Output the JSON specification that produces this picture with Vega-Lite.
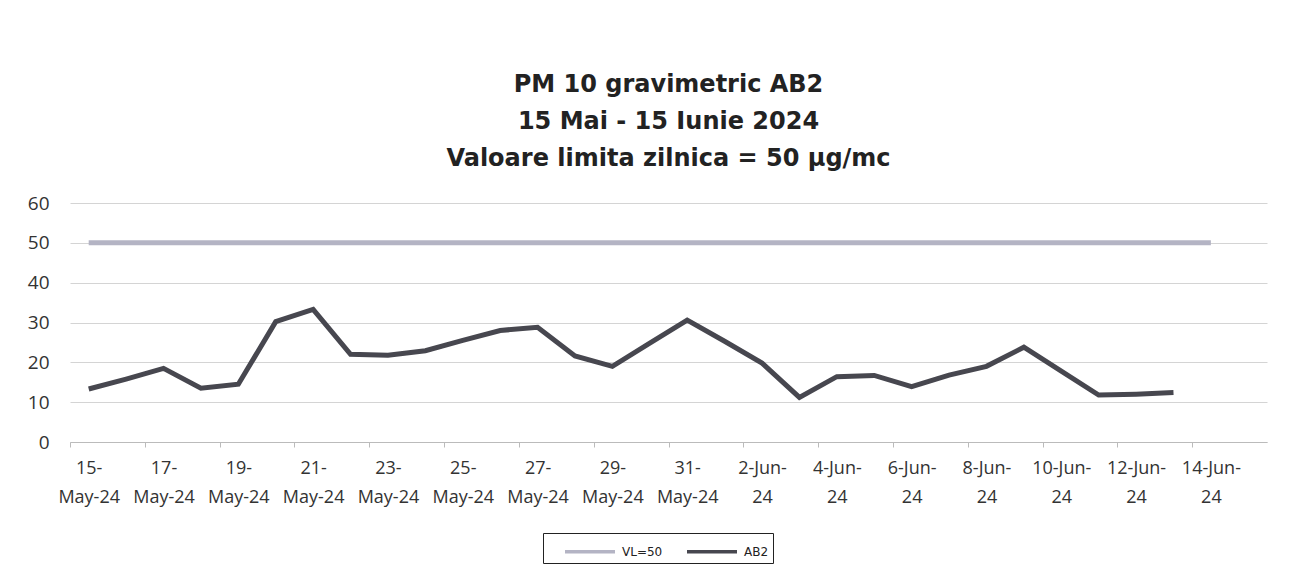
{
  "$schema": "https://vega.github.io/schema/vega-lite/v6.json",
  "autosize": {"type": "none"},
  "width": 1197,
  "height": 239,
  "padding": {"left": 70, "top": 203, "right": 33, "bottom": 133},
  "background": "white",
  "title": {
    "text": ["PM 10 gravimetric AB2", "15 Mai  - 15 Iunie 2024", "Valoare limita zilnica = 50 µg/mc"],
    "anchor": "middle",
    "font": "DejaVu Sans",
    "fontSize": 24,
    "fontWeight": "bold",
    "color": "#222222",
    "lineHeight": 37,
    "offset": 23
  },
  "data": {
    "values": [
      {"date": "15-May-24", "series": "AB2", "value": 13.3},
      {"date": "16-May-24", "series": "AB2", "value": 15.8},
      {"date": "17-May-24", "series": "AB2", "value": 18.5},
      {"date": "18-May-24", "series": "AB2", "value": 13.5},
      {"date": "19-May-24", "series": "AB2", "value": 14.5},
      {"date": "20-May-24", "series": "AB2", "value": 30.2},
      {"date": "21-May-24", "series": "AB2", "value": 33.3},
      {"date": "22-May-24", "series": "AB2", "value": 22.0},
      {"date": "23-May-24", "series": "AB2", "value": 21.8},
      {"date": "24-May-24", "series": "AB2", "value": 22.9},
      {"date": "25-May-24", "series": "AB2", "value": 25.5},
      {"date": "26-May-24", "series": "AB2", "value": 28.0},
      {"date": "27-May-24", "series": "AB2", "value": 28.8},
      {"date": "28-May-24", "series": "AB2", "value": 21.6},
      {"date": "29-May-24", "series": "AB2", "value": 19.0},
      {"date": "30-May-24", "series": "AB2", "value": 24.8},
      {"date": "31-May-24", "series": "AB2", "value": 30.6},
      {"date": "1-Jun-24", "series": "AB2", "value": 25.3},
      {"date": "2-Jun-24", "series": "AB2", "value": 19.8},
      {"date": "3-Jun-24", "series": "AB2", "value": 11.2},
      {"date": "4-Jun-24", "series": "AB2", "value": 16.4},
      {"date": "5-Jun-24", "series": "AB2", "value": 16.7},
      {"date": "6-Jun-24", "series": "AB2", "value": 13.9},
      {"date": "7-Jun-24", "series": "AB2", "value": 16.8},
      {"date": "8-Jun-24", "series": "AB2", "value": 19.0},
      {"date": "9-Jun-24", "series": "AB2", "value": 23.8},
      {"date": "10-Jun-24", "series": "AB2", "value": 17.8},
      {"date": "11-Jun-24", "series": "AB2", "value": 11.8},
      {"date": "12-Jun-24", "series": "AB2", "value": 12.0},
      {"date": "13-Jun-24", "series": "AB2", "value": 12.4},
      {"date": "15-May-24", "series": "VL=50", "value": 50},
      {"date": "16-May-24", "series": "VL=50", "value": 50},
      {"date": "17-May-24", "series": "VL=50", "value": 50},
      {"date": "18-May-24", "series": "VL=50", "value": 50},
      {"date": "19-May-24", "series": "VL=50", "value": 50},
      {"date": "20-May-24", "series": "VL=50", "value": 50},
      {"date": "21-May-24", "series": "VL=50", "value": 50},
      {"date": "22-May-24", "series": "VL=50", "value": 50},
      {"date": "23-May-24", "series": "VL=50", "value": 50},
      {"date": "24-May-24", "series": "VL=50", "value": 50},
      {"date": "25-May-24", "series": "VL=50", "value": 50},
      {"date": "26-May-24", "series": "VL=50", "value": 50},
      {"date": "27-May-24", "series": "VL=50", "value": 50},
      {"date": "28-May-24", "series": "VL=50", "value": 50},
      {"date": "29-May-24", "series": "VL=50", "value": 50},
      {"date": "30-May-24", "series": "VL=50", "value": 50},
      {"date": "31-May-24", "series": "VL=50", "value": 50},
      {"date": "1-Jun-24", "series": "VL=50", "value": 50},
      {"date": "2-Jun-24", "series": "VL=50", "value": 50},
      {"date": "3-Jun-24", "series": "VL=50", "value": 50},
      {"date": "4-Jun-24", "series": "VL=50", "value": 50},
      {"date": "5-Jun-24", "series": "VL=50", "value": 50},
      {"date": "6-Jun-24", "series": "VL=50", "value": 50},
      {"date": "7-Jun-24", "series": "VL=50", "value": 50},
      {"date": "8-Jun-24", "series": "VL=50", "value": 50},
      {"date": "9-Jun-24", "series": "VL=50", "value": 50},
      {"date": "10-Jun-24", "series": "VL=50", "value": 50},
      {"date": "11-Jun-24", "series": "VL=50", "value": 50},
      {"date": "12-Jun-24", "series": "VL=50", "value": 50},
      {"date": "13-Jun-24", "series": "VL=50", "value": 50},
      {"date": "14-Jun-24", "series": "VL=50", "value": 50}
    ]
  },
  "mark": {"type": "line", "strokeWidth": 5, "strokeCap": "butt", "strokeJoin": "miter"},
  "encoding": {
    "x": {
      "field": "date",
      "type": "nominal",
      "sort": null,
      "scale": {
        "type": "band",
        "paddingInner": 0,
        "paddingOuter": 0,
        "domain": ["15-May-24","16-May-24","17-May-24","18-May-24","19-May-24","20-May-24","21-May-24","22-May-24","23-May-24","24-May-24","25-May-24","26-May-24","27-May-24","28-May-24","29-May-24","30-May-24","31-May-24","1-Jun-24","2-Jun-24","3-Jun-24","4-Jun-24","5-Jun-24","6-Jun-24","7-Jun-24","8-Jun-24","9-Jun-24","10-Jun-24","11-Jun-24","12-Jun-24","13-Jun-24","14-Jun-24","15-Jun-24"]
      },
      "axis": {
        "title": null,
        "values": ["15-May-24","17-May-24","19-May-24","21-May-24","23-May-24","25-May-24","27-May-24","29-May-24","31-May-24","2-Jun-24","4-Jun-24","6-Jun-24","8-Jun-24","10-Jun-24","12-Jun-24","14-Jun-24"],
        "labelExpr": "indexof(datum.label,'May')>0 ? [slice(datum.label,0,indexof(datum.label,'-')+1), slice(datum.label,indexof(datum.label,'-')+1)] : [slice(datum.label,0,lastindexof(datum.label,'-')+1), slice(datum.label,lastindexof(datum.label,'-')+1)]",
        "labelAngle": 0,
        "labelFont": "Open Sans",
        "labelFontSize": 18,
        "labelColor": "#333333",
        "labelLineHeight": 29,
        "labelPadding": 12,
        "labelBaseline": "top",
        "labelOverlap": false,
        "labelFlush": false,
        "labelOffset": 18.7,
        "domainColor": "#bbbbbb",
        "tickColor": "#bbbbbb",
        "tickSize": 5,
        "tickOffset": -18.7,
        "grid": false
      }
    },
    "y": {
      "field": "value",
      "type": "quantitative",
      "scale": {"domain": [0, 60], "nice": false},
      "axis": {
        "title": null,
        "values": [0, 10, 20, 30, 40, 50, 60],
        "labelFont": "Open Sans",
        "labelFontSize": 19,
        "labelColor": "#333333",
        "labelPadding": 21,
        "domain": false,
        "ticks": false,
        "grid": true,
        "gridColor": "#d4d4d4",
        "gridWidth": 1
      }
    },
    "color": {
      "field": "series",
      "type": "nominal",
      "scale": {"domain": ["VL=50", "AB2"], "range": ["#b4b4c4", "#47474f"]},
      "legend": {
        "title": null,
        "orient": "none",
        "legendX": 473,
        "legendY": 330,
        "direction": "horizontal",
        "symbolType": "M-1,0H3",
        "symbolStrokeWidth": 3.5,
        "symbolSize": 625,
        "symbolOffset": 16,
        "labelFont": "DejaVu Sans",
        "labelFontSize": 12,
        "labelColor": "#222222",
        "labelOffset": 30,
        "strokeColor": "#222222",
        "padding": 4,
        "columnPadding": 6,
        "fillColor": "white",
        "offset": 0
      }
    }
  },
  "config": {"view": {"stroke": null}}
}
